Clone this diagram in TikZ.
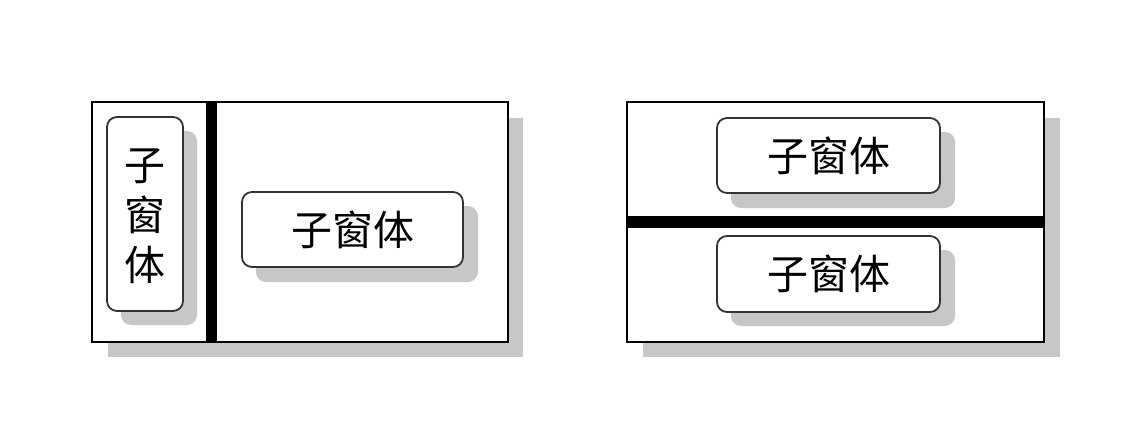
\documentclass[tikz,border=0pt]{standalone}
\usepackage{fontspec}
\newfontfamily\cjk{Noto Sans CJK SC}
\usetikzlibrary{positioning}
\begin{document}
\begin{tikzpicture}[x=1pt,y=-1pt,
  shadowcol/.style={fill=black!22},
  frame/.style={draw=black,line width=1.8pt,fill=white},
  splitbar/.style={fill=black},
  subwin/.style={draw=black!80,line width=1.8pt,fill=white,rounded corners=10pt},
  lbl/.style={font=\cjk\fontsize{41}{50}\selectfont,text=black,align=center,inner sep=0pt}]
\useasboundingbox (0,0) rectangle (1138,431);
% ---------- left frame (vertical split) ----------
\fill[shadowcol] (108,118) rectangle (523,357);
\draw[frame] (92,102) rectangle (508,342);
\fill[splitbar] (206,102) rectangle (217,342);
\fill[shadowcol,rounded corners=10pt] (121,131) rectangle (197,325);
\draw[subwin] (107,117) rectangle (183,311);
\node[lbl] (lv) at (145,216) {子\\窗\\体};
\fill[shadowcol,rounded corners=10pt] (256,206) rectangle (478,282);
\draw[subwin] (242,192) rectangle (463,267);
\node[lbl] (lh) at (352.5,230) {子窗体};
% ---------- right frame (horizontal split) ----------
\fill[shadowcol] (643,118) rectangle (1060,357);
\draw[frame] (627,102) rectangle (1044,342);
\fill[splitbar] (627,216) rectangle (1044,228);
\fill[shadowcol,rounded corners=10pt] (731,132) rectangle (955,208);
\draw[subwin] (717,118) rectangle (940,193);
\node[lbl] (rt) at (828.5,156) {子窗体};
\fill[shadowcol,rounded corners=10pt] (731,250) rectangle (955,326);
\draw[subwin] (717,236) rectangle (940,312);
\node[lbl] (rb) at (828.5,274) {子窗体};
\end{tikzpicture}
\end{document}
